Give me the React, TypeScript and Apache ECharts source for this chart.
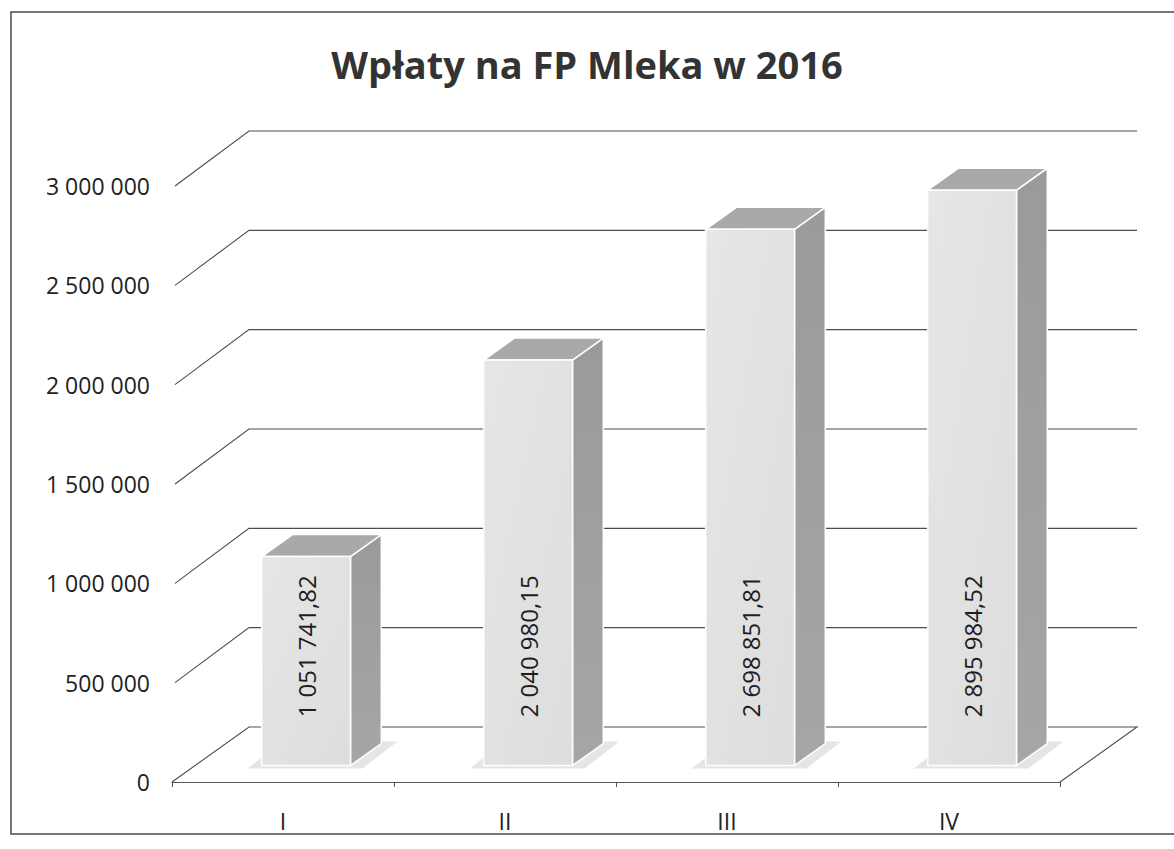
import React, { useEffect, useRef } from "react";
import * as echarts from "echarts";

const title = "Wpłaty na FP Mleka w 2016";
const categories = ["I", "II", "III", "IV"];
const values = [1051741.82, 2040980.15, 2698851.81, 2895984.52];
const yTicks = [0, 500000, 1000000, 1500000, 2000000, 2500000, 3000000];
const yMax = 3000000;
const yInterval = 500000;

const groupThousands = (s: string) => s.replace(/\B(?=(\d{3})+(?!\d))/g, " ");
const fmtAxis = (v: number) => groupThousands(String(Math.round(v)));
const fmtValue = (v: number) => {
  const [a, b] = v.toFixed(2).split(".");
  return groupThousands(a) + "," + b;
};

// oblique depth vector of the 3D box (pixels)
const DX = 77;
const DY = -55;
const FONT = "'Open Sans', 'Noto Sans', sans-serif";

export default function App() {
  const ref = useRef<HTMLDivElement>(null);
  useEffect(() => {
    document.body.style.margin = "0";
    const chart = echarts.init(ref.current!, null, { renderer: "svg" });
    const option: any = {
      animation: false,
      backgroundColor: "#ffffff",
      title: {
        text: title,
        left: "center",
        top: 40,
        textStyle: { fontFamily: FONT, fontWeight: "bold", fontSize: 38, color: "#333333" },
      },
      graphic: [
        {
          type: "rect",
          shape: { x: 11, y: 12, width: 1220, height: 822 },
          style: { fill: "none", stroke: "#4a4a4a", lineWidth: 1.5 },
          z: -10,
        },
      ],
      grid: { left: 172, right: 114, top: 186, bottom: 67 },
      xAxis: {
        type: "category",
        data: categories,
        axisLine: { show: true, lineStyle: { color: "#555555", width: 1.2 } },
        axisTick: { show: true, length: 5, lineStyle: { color: "#555555" } },
        axisLabel: { fontFamily: FONT, fontSize: 23, color: "#222222", margin: 27 },
        splitLine: { show: false },
      },
      yAxis: {
        type: "value",
        min: 0,
        max: yMax,
        interval: yInterval,
        axisLine: { show: false },
        axisTick: { show: false },
        splitLine: { show: false },
        axisLabel: {
          fontFamily: FONT,
          fontSize: 23,
          color: "#222222",
          margin: 22,
          formatter: (v: number) => fmtAxis(v),
        },
      },
      series: [
        {
          type: "custom",
          name: "grid3d",
          silent: true,
          z: 1,
          data: yTicks.map((t) => [0, t]),
          renderItem: (params: any, api: any) => {
            const cs = params.coordSys;
            const v = api.value(1);
            const y = api.coord([0, v])[1];
            const x0 = cs.x;
            const x1 = cs.x + cs.width;
            const pts =
              v === 0
                ? [
                    [x0, y],
                    [x0 + DX, y + DY],
                    [x1 + DX, y + DY],
                    [x1, y],
                  ]
                : [
                    [x0 + 3, y],
                    [x0 + DX, y + DY],
                    [x1 + DX, y + DY],
                  ];
            return {
              type: "polyline",
              shape: { points: pts },
              style: { fill: "none", stroke: "#4d4d4d", lineWidth: 1.1 },
            };
          },
        },
        {
          type: "custom",
          name: "Wpłaty",
          z: 2,
          data: values.map((v, i) => [i, v]),
          renderItem: (params: any, api: any) => {
            const i = api.value(0);
            const v = api.value(1);
            const base = api.coord([i, 0]);
            const top = api.coord([i, v]);
            const band = api.size([1, 0])[0];
            const w = band * 0.4;
            const d0 = 0.3;
            const d1 = 0.4;
            const cx = base[0] + DX * d0;
            const yb = base[1] + DY * d0;
            const yt = top[1] + DY * d0;
            const xl = cx - w / 2;
            const xr = cx + w / 2;
            const bx = DX * d1;
            const by = DY * d1;
            return {
              type: "group",
              children: [
                {
                  type: "polygon",
                  shape: {
                    points: [
                      [xl - 14, yb + 3],
                      [xr + 12, yb + 3],
                      [xr + bx + 16, yb + by - 2],
                      [xl + bx - 10, yb + by - 2],
                    ],
                  },
                  style: { fill: "#e2e2e2", opacity: 0.9 },
                },
                {
                  type: "polygon",
                  shape: {
                    points: [
                      [xr, yt],
                      [xr + bx, yt + by],
                      [xr + bx, yb + by],
                      [xr, yb],
                    ],
                  },
                  style: {
                    fill: new echarts.graphic.LinearGradient(0, 0, 0, 1, [
                      { offset: 0, color: "#9a9a9a" },
                      { offset: 1, color: "#a6a6a6" },
                    ]),
                    stroke: "#ffffff",
                    lineWidth: 1.5,
                  },
                },
                {
                  type: "polygon",
                  shape: {
                    points: [
                      [xl, yt],
                      [xr, yt],
                      [xr + bx, yt + by],
                      [xl + bx, yt + by],
                    ],
                  },
                  style: { fill: "#a9a9a9", stroke: "#ffffff", lineWidth: 1.5 },
                },
                {
                  type: "rect",
                  shape: { x: xl, y: yt, width: w, height: yb - yt },
                  style: {
                    fill: new echarts.graphic.LinearGradient(0, 0, 1, 1, [
                      { offset: 0, color: "#e6e6e6" },
                      { offset: 1, color: "#dddddd" },
                    ]),
                    stroke: "#ffffff",
                    lineWidth: 1.5,
                  },
                },
                {
                  type: "text",
                  x: cx,
                  y: yb - 48,
                  rotation: Math.PI / 2,
                  style: {
                    text: fmtValue(v),
                    fontFamily: FONT,
                    fontSize: 24,
                    fill: "#1e1e1e",
                    textAlign: "left",
                    textVerticalAlign: "middle",
                  },
                },
              ],
            };
          },
        },
      ],
    };
    chart.setOption(option);
    return () => chart.dispose();
  }, []);
  return <div ref={ref} style={{ width: 1174, height: 849 }} />;
}
